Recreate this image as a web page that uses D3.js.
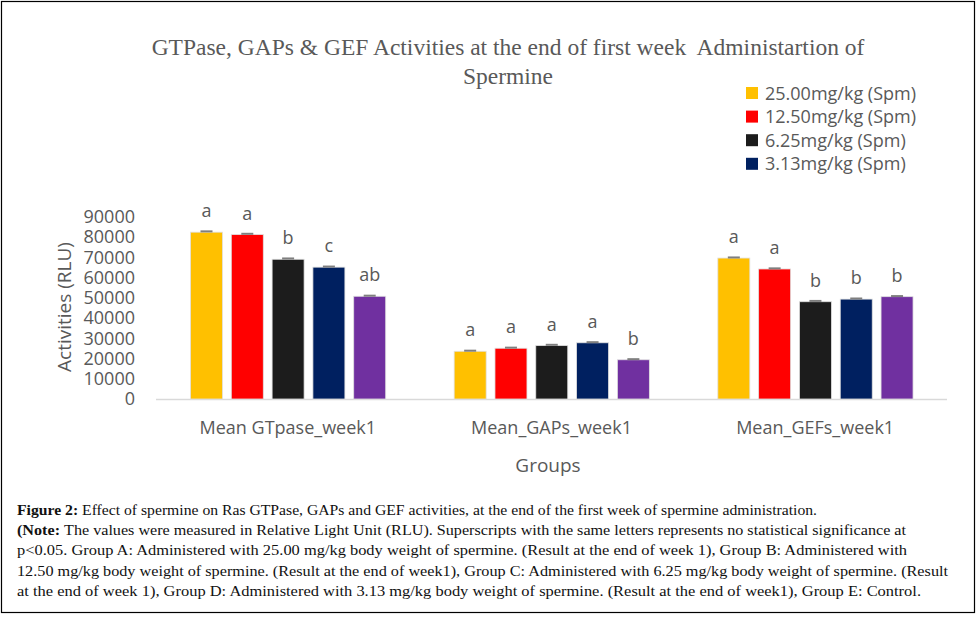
<!DOCTYPE html>
<html>
<head>
<meta charset="utf-8">
<script src="https://cdn.jsdelivr.net/npm/d3@7"></script>
<style>
  body { margin: 0; background: #fff; }
  svg { display: block; }
  text { font-family: "Open Sans", "Liberation Sans", sans-serif; }
</style>
</head>
<body>
<svg id="chart" width="977" height="617"></svg>
<script>
// data
var groups = ["Mean GTpase_week1", "Mean_GAPs_week1", "Mean_GEFs_week1"];
var doses = ["25.00mg/kg (Spm)", "12.50mg/kg (Spm)", "6.25mg/kg (Spm)", "3.13mg/kg (Spm)", "Control"];
var colors = ["#FFC000", "#FF0000", "#1C1C1C", "#002060", "#7030A0"];
var gtpase = [82500, 81300, 69100, 65200, 50800];
var gaps = [23600, 25100, 26400, 27800, 19400];
var gefs = [69700, 64300, 48100, 49400, 50600];
var errors = [[400, 400, 400, 300, 300], [300, 300, 400, 300, 300], [300, 300, 400, 300, 300]];
var letters = [["a", "a", "b", "c", "ab"], ["a", "a", "a", "a", "b"], ["a", "a", "b", "b", "b"]];
var yTicks = [0, 10000, 20000, 30000, 40000, 50000, 60000, 70000, 80000, 90000];
var values = [gtpase, gaps, gefs];

var titleLines = ["GTPase, GAPs & GEF Activities at the end of first week  Administartion of", "Spermine"];

var caption = [
  [["Figure 2: ", true], ["Effect of spermine on Ras GTPase, GAPs and GEF activities, at the end of the first week of spermine administration.", false]],
  [["(Note: ", true], ["The values were measured in Relative Light Unit (RLU). Superscripts with the same letters represents no statistical significance at", false]],
  [["p<0.05. Group A: Administered with 25.00 mg/kg body weight of spermine. (Result at the end of week 1), Group B: Administered with", false]],
  [["12.50 mg/kg body weight of spermine. (Result at the end of week1), Group C: Administered with 6.25 mg/kg body weight of spermine. (Result", false]],
  [["at the end of week 1), Group D: Administered with 3.13 mg/kg body weight of spermine. (Result at the end of week1), Group E: Control.", false]]
];
var captionWidths = [800, 889, 890, 931, 904];

var svg = d3.select("#chart");
var grey = "#595959";

// outer frame
svg.append("rect")
  .attr("x", 1.5).attr("y", 1.5)
  .attr("width", 973).attr("height", 611)
  .attr("fill", "none").attr("stroke", "#000").attr("stroke-width", 1.2);

var x0 = d3.scaleBand().domain(groups).range([156, 947]).padding(0);
var x1 = d3.scaleBand().domain(doses).range([34.5, 229.7]).paddingInner(0.216);
var y = d3.scaleLinear().domain([0, 90000]).range([399, 217]);

// title
svg.append("g").selectAll("text")
  .data(titleLines)
  .enter().append("text")
  .attr("x", 508)
  .attr("y", function(d, i) { return 55 + i * 29; })
  .attr("text-anchor", "middle")
  .style("font-family", "'Liberation Serif', serif")
  .style("font-size", "23.5px")
  .style("white-space", "pre")
  .attr("fill", grey)
  .text(function(d) { return d; });

// y axis, labels only
var yAxis = d3.axisLeft(y).tickValues(yTicks).tickSize(0).tickPadding(0).tickFormat(d3.format("d"));
var ga = svg.append("g")
  .attr("transform", "translate(135,0)")
  .call(yAxis);
ga.select(".domain").remove();
ga.selectAll("text")
  .style("font-family", "'Open Sans', sans-serif")
  .style("font-size", "18px")
  .attr("fill", grey);

// baseline
svg.append("line")
  .attr("x1", 156).attr("x2", 947)
  .attr("y1", y(0) + 0.5).attr("y2", y(0) + 0.5)
  .attr("stroke", "#d9d9d9").attr("stroke-width", 1.5);

// bars
var gg = svg.append("g").selectAll("g")
  .data(groups)
  .enter().append("g")
  .attr("transform", function(d) { return "translate(" + x0(d) + ",0)"; });

var cells = gg.selectAll("g")
  .data(function(d, gi) {
    return doses.map(function(s, si) {
      return { s: s, si: si, v: values[gi][si], e: errors[gi][si], l: letters[gi][si] };
    });
  })
  .enter().append("g");

cells.append("rect")
  .attr("x", function(d) { return x1(d.s); })
  .attr("y", function(d) { return y(d.v); })
  .attr("width", x1.bandwidth())
  .attr("height", function(d) { return y(0) - y(d.v); })
  .attr("fill", function(d) { return colors[d.si]; })
  .attr("stroke", "#e0e0e0").attr("stroke-width", 0.8);

// error bars
cells.append("line")
  .attr("x1", function(d) { return x1(d.s) + x1.bandwidth() / 2 - 6; })
  .attr("x2", function(d) { return x1(d.s) + x1.bandwidth() / 2 + 6; })
  .attr("y1", function(d) { return y(d.v + d.e); })
  .attr("y2", function(d) { return y(d.v + d.e); })
  .attr("stroke", "#7f7f7f").attr("stroke-width", 2);

cells.append("text")
  .attr("x", function(d) { return x1(d.s) + x1.bandwidth() / 2; })
  .attr("y", function(d) { return y(d.v) - 15; })
  .attr("text-anchor", "middle")
  .style("font-size", "18px")
  .attr("fill", grey)
  .text(function(d) { return d.l; });

// category labels
svg.append("g").selectAll("text")
  .data(groups)
  .enter().append("text")
  .attr("x", function(d) { return x0(d) + x0.bandwidth() / 2; })
  .attr("y", 434)
  .attr("text-anchor", "middle")
  .style("font-size", "18px")
  .attr("fill", grey)
  .text(function(d) { return d; });

// axis titles
svg.append("text")
  .attr("x", 548).attr("y", 472)
  .attr("text-anchor", "middle")
  .style("font-size", "19px")
  .attr("fill", grey)
  .text("Groups");

svg.append("text")
  .attr("transform", "translate(71,307) rotate(-90)")
  .attr("text-anchor", "middle")
  .style("font-size", "19px")
  .attr("fill", grey)
  .text("Activities (RLU)");

// legend (four doses only)
var leg = svg.append("g").selectAll("g")
  .data(doses.slice(0, 4))
  .enter().append("g")
  .attr("transform", function(d, i) { return "translate(746," + (93 + i * 23.6) + ")"; });
leg.append("rect")
  .attr("x", 0).attr("y", -6)
  .attr("width", 12).attr("height", 12)
  .attr("fill", function(d, i) { return colors[i]; });
leg.append("text")
  .attr("x", 19).attr("y", 6.5)
  .style("font-size", "18px")
  .attr("fill", grey)
  .text(function(d) { return d; });

// caption
var cap = svg.append("g").selectAll("text")
  .data(caption)
  .enter().append("text")
  .attr("x", 17)
  .attr("y", function(d, i) { return 515 + i * 20.2; })
  .attr("textLength", function(d, i) { return captionWidths[i]; })
  .attr("lengthAdjust", "spacingAndGlyphs")
  .style("font-family", "'Liberation Serif', serif")
  .style("font-size", "15px")
  .attr("fill", "#111");
cap.selectAll("tspan")
  .data(function(d) { return d; })
  .enter().append("tspan")
  .style("font-weight", function(d) { return d[1] ? "bold" : "normal"; })
  .text(function(d) { return d[0]; });
</script>
</body>
</html>
